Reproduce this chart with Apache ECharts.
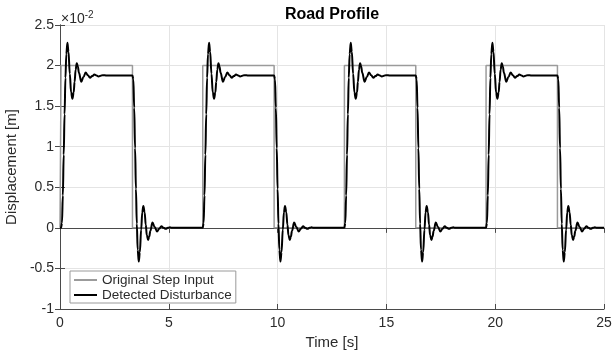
<!DOCTYPE html>
<html>
<head>
<meta charset="utf-8">
<script src="https://cdn.jsdelivr.net/npm/echarts@6/dist/echarts.min.js"></script>
<style>
  html, body { margin: 0; padding: 0; background: #fff; }
  #chart { width: 613px; height: 352px; }
</style>
</head>
<body>
<div id="chart"></div>
<script>
// Road step input: corner times (s) and levels (x10^-2 m)
const stepTime  = [0, 0.05, 0.05, 3.33, 3.33, 6.56, 6.56, 9.84, 9.84, 13.07, 13.07, 16.35, 16.35, 19.58, 19.58, 22.86, 22.86, 25];
const stepValue = [0, 0,    2,    2,    0,    0,    2,    2,    0,    0,     2,     2,     0,     0,     2,     2,     0,     0];

// Times of the up and down steps (s)
const riseEdges = [0.05, 6.56, 13.07, 19.58];
const fallEdges = [3.33, 9.84, 16.35, 22.86];

// Detected disturbance after an up-step: delay after the edge (s) and displacement
const riseDelay = [0, 0.04, 0.08, 0.12, 0.16, 0.20, 0.24, 0.29, 0.34, 0.40, 0.46, 0.52, 0.58, 0.62, 0.67, 0.72, 0.77, 0.82, 0.93, 1.03, 1.13, 1.23, 1.33, 1.43, 1.53, 1.63, 1.72, 1.82, 1.92, 2.10];
const riseValue = [0, 0.06, 0.40, 0.90, 1.40, 1.85, 2.14, 2.28, 2.17, 1.90, 1.67, 1.59, 1.67, 1.80, 1.95, 2.03, 1.99, 1.91, 1.80, 1.86, 1.915, 1.88, 1.85, 1.87, 1.89, 1.877, 1.865, 1.874, 1.882, 1.877];

// Detected disturbance after a down-step
const fallDelay = [0, 0.04, 0.08, 0.12, 0.16, 0.20, 0.24, 0.29, 0.34, 0.40, 0.45, 0.50, 0.56, 0.61, 0.66, 0.72, 0.77, 0.82, 0.92, 1.02, 1.13, 1.23, 1.33, 1.43, 1.53, 1.63, 1.72, 1.82, 2.10];
const fallValue = [1.877, 1.83, 1.48, 0.98, 0.48, 0.05, -0.27, -0.415, -0.30, -0.02, 0.19, 0.27, 0.19, 0.04, -0.09, -0.15, -0.11, -0.04, 0.065, 0.01, -0.045, -0.01, 0.02, 0.0, -0.012, 0.0, 0.006, 0.0, 0.0];

// Axis ranges and tick spacing
const xRange = [0, 25], xStep = 5;
const yRange = [-1, 2.5], yStep = 0.5;

const stepData = stepTime.map((t, i) => [t, stepValue[i]]);

const disturbanceData = [[0, 0]];
riseEdges.forEach((edge, i) => {
  riseDelay.forEach((d, k) => disturbanceData.push([edge + d, riseValue[k]]));
  fallDelay.forEach((d, k) => disturbanceData.push([fallEdges[i] + d, fallValue[k]]));
});
disturbanceData.push([25, 0]);

const FONT = "'Liberation Sans', Arial, Helvetica, sans-serif";
const AXIS_COLOR = '#4a4a4a';
const TEXT_COLOR = '#2b2b2b';

const chart = echarts.init(document.getElementById('chart'), null, { renderer: 'canvas' });

const frameAxis = {
  type: 'value',
  axisLine: { show: true, lineStyle: { color: AXIS_COLOR, width: 1 } },
  axisTick: { show: true, inside: true, length: 5, lineStyle: { color: AXIS_COLOR } },
  axisLabel: { show: false },
  splitLine: { show: false }
};

chart.setOption({
  animation: false,
  textStyle: { fontFamily: FONT },
  grid: { left: 60, right: 9, top: 25, bottom: 43, containLabel: false, outerBoundsMode: 'none' },
  legend: {
    orient: 'vertical',
    left: 70,
    top: 271,
    padding: [2, 4, 1, 3],
    itemWidth: 23,
    itemHeight: 8,
    itemGap: 1,
    backgroundColor: '#fff',
    borderColor: '#9a9a9a',
    borderWidth: 1,
    itemStyle: { color: 'transparent', borderColor: 'transparent', borderWidth: 0 },
    textStyle: { fontFamily: FONT, fontSize: 13.5, color: TEXT_COLOR, lineHeight: 13 },
    data: ['Original Step Input', 'Detected Disturbance']
  },
  xAxis: [
    {
      type: 'value',
      min: xRange[0], max: xRange[1], interval: xStep,
      name: 'Time [s]',
      nameLocation: 'middle',
      nameGap: 26,
      nameTextStyle: { fontFamily: FONT, fontSize: 15, color: TEXT_COLOR },
      axisLine: { show: true, onZero: false, lineStyle: { color: AXIS_COLOR, width: 1 } },
      axisTick: { show: true, inside: true, length: 5, lineStyle: { color: AXIS_COLOR } },
      axisLabel: { fontFamily: FONT, fontSize: 14, color: TEXT_COLOR, margin: 7 },
      splitLine: { show: true, lineStyle: { color: '#e4e4e4', width: 1 } }
    },
    Object.assign({}, frameAxis, { position: 'top', min: xRange[0], max: xRange[1], interval: xStep })
  ],
  yAxis: [
    {
      type: 'value',
      min: yRange[0], max: yRange[1], interval: yStep,
      name: 'Displacement [m]',
      nameLocation: 'middle',
      nameGap: 36,
      nameTextStyle: { fontFamily: FONT, fontSize: 15, color: TEXT_COLOR },
      axisLine: { show: true, onZero: false, lineStyle: { color: AXIS_COLOR, width: 1 } },
      axisTick: { show: true, inside: true, length: 5, lineStyle: { color: AXIS_COLOR } },
      axisLabel: { fontFamily: FONT, fontSize: 14, color: TEXT_COLOR, margin: 6 },
      splitLine: { show: true, lineStyle: { color: '#e4e4e4', width: 1 } }
    },
    Object.assign({}, frameAxis, { position: 'right', min: yRange[0], max: yRange[1], interval: yStep })
  ],
  graphic: [
    {
      type: 'text',
      x: 332, y: 15,
      style: {
        text: 'Road Profile',
        fill: '#000',
        font: 'bold 16px ' + FONT,
        textAlign: 'center',
        textVerticalAlign: 'middle'
      }
    },
    {
      type: 'text',
      x: 61, y: 19,
      style: {
        text: '{a|×10}{b|-2}',
        textVerticalAlign: 'middle',
        rich: {
          a: { font: '14px ' + FONT, fill: TEXT_COLOR },
          b: { font: '10px ' + FONT, fill: TEXT_COLOR, verticalAlign: 'top', padding: [0, 0, 8, 0] }
        }
      }
    }
  ],
  series: [
    {
      name: 'Original Step Input',
      type: 'line',
      data: stepData,
      symbol: 'none',
      lineStyle: { color: '#9b9b9b', width: 1.5 },
      itemStyle: { color: '#9b9b9b' },
      z: 2
    },
    {
      name: 'Detected Disturbance',
      type: 'line',
      data: disturbanceData,
      symbol: 'none',
      smooth: 0.4,
      smoothMonotone: 'x',
      lineStyle: { color: '#000', width: 2 },
      itemStyle: { color: '#000' },
      z: 3
    }
  ]
});
</script>
</body>
</html>
